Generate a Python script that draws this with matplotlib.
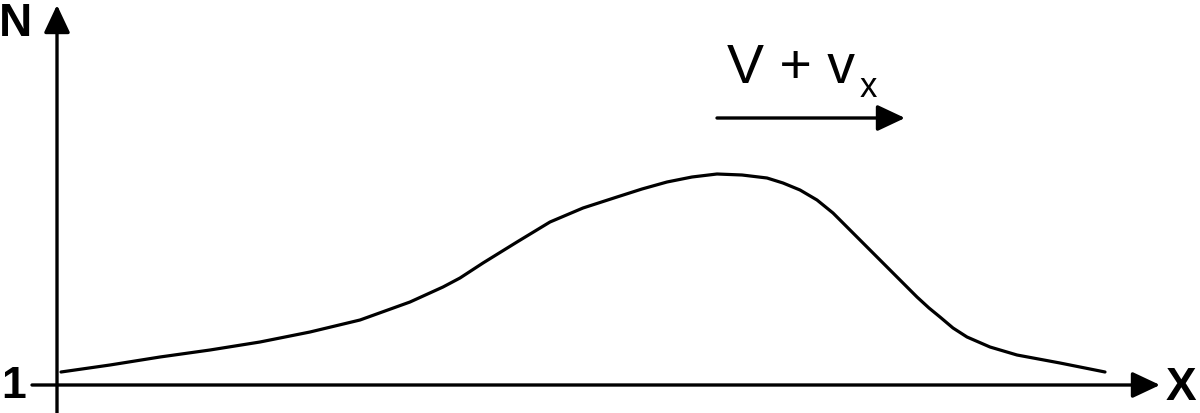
import matplotlib
matplotlib.use("Agg")
import matplotlib.pyplot as plt

# Curve samples: x position along X axis, N height above baseline
x_pos = [4, 53, 103, 153, 203, 253, 303, 353, 386, 403, 426, 460, 493, 526, 560,
         585, 610, 635, 660, 685, 710, 726, 743, 760, 776, 793, 810, 823, 836,
         848, 860, 872, 883, 896, 910, 933, 960, 1003, 1048]
n_val = [12, 19, 27, 34, 42, 52, 64, 82, 97, 106, 121, 142, 162, 176, 187,
         195, 202, 207, 210, 209, 206, 201, 194, 184, 171, 154, 137, 124, 111,
         99, 87, 76, 67, 56, 47, 37, 29, 21, 12]

y_label = "N"
x_label = "X"
baseline_label = "1"
velocity_label = "V + v"
velocity_sub = "x"

fig = plt.figure(figsize=(12, 4.13), dpi=100)
ax = fig.add_axes([0, 0, 1, 1])
ax.set_xlim(-57, 1143)
ax.set_ylim(-29, 384)
ax.axis("off")

font = "Liberation Sans"
arrow_kw = dict(arrowstyle="-|>,head_length=0.85,head_width=0.4", color="black",
                lw=2.4, shrinkA=0, shrinkB=0, mutation_scale=20)

# Y axis
ax.annotate("", xy=(0, 379), xytext=(0, -29), arrowprops=arrow_kw)
# X axis
ax.annotate("", xy=(1103, -1), xytext=(-25, -1), arrowprops=arrow_kw)

# curve
ax.plot(x_pos, n_val, color="black", lw=2.3, solid_joinstyle="round",
        solid_capstyle="round")

ax.text(-41, 348, y_label, fontsize=33, fontweight="bold", family=font,
        ha="center", va="baseline")
ax.text(-43, -2, baseline_label, fontsize=32, fontweight="bold", family=font,
        ha="center", va="center")
ax.text(1124, -4, x_label, fontsize=33, fontweight="bold", family=font,
        ha="center", va="center")

ax.text(670, 301, velocity_label, fontsize=40, family=font, ha="left",
        va="baseline")
ax.text(803, 287, velocity_sub, fontsize=25, family=font, ha="left",
        va="baseline")
ax.annotate("", xy=(848, 266), xytext=(660, 266), arrowprops=arrow_kw)

fig.savefig("out.png", dpi=100)
